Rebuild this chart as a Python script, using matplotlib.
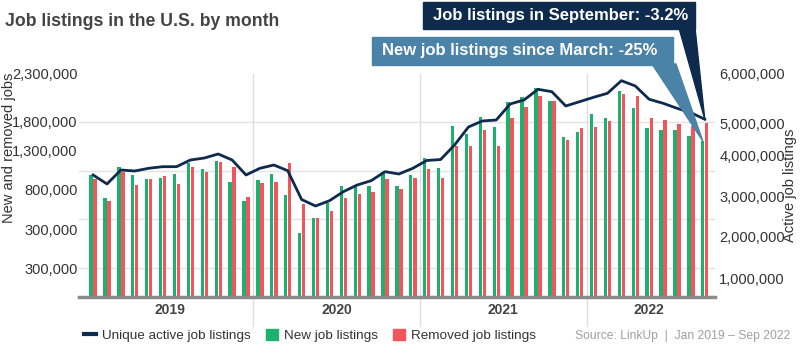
import matplotlib
matplotlib.use("Agg")
import matplotlib.pyplot as plt
from matplotlib.patches import Polygon, Rectangle
from matplotlib.lines import Line2D
from matplotlib.transforms import blended_transform_factory
import numpy as np

plt.rcParams['font.family'] = ['Liberation Sans', 'DejaVu Sans']

# monthly values, Jan 2019 - Sep 2022
new_jobs = [1258000, 1018000, 1344000, 1258000, 1217000, 1227000, 1269000, 1385000, 1320000, 1403000, 1189000, 990000,
            1207000, 1269000, 1052000, 657000, 812000, 973000, 1145000, 1155000, 1145000, 1292000, 1145000, 1258000,
            1434000, 1327000, 1764000, 1681000, 1857000, 1753000, 2011000, 2063000, 2156000, 2025000, 1647000, 1705000,
            1884000, 1849000, 2128000, 1946000, 1740000, 1722000, 1722000, 1661000, 1609000]
removed_jobs = [1214000, 990000, 1292000, 1155000, 1217000, 1248000, 1165000, 1344000, 1289000, 1396000, 1344000, 1028000,
                1173000, 1189000, 1385000, 959000, 812000, 887000, 1018000, 1062000, 1086000, 1217000, 1111000, 1224000,
                1317000, 1224000, 1557000, 1557000, 1722000, 1557000, 1846000, 1960000, 2073000, 2025000, 1619000, 1740000,
                1756000, 1818000, 2091000, 2073000, 1843000, 1826000, 1784000, 1764000, 1792000]
active_jobs = [3917000, 3731000, 4020000, 3999000, 4055000, 4088000, 4088000, 4226000, 4267000, 4350000, 4226000, 3917000,
               4055000, 4123000, 4005000, 3411000, 3277000, 3386000, 3572000, 3710000, 3799000, 3985000, 3937000, 4055000,
               4216000, 4236000, 4535000, 4907000, 5031000, 5051000, 5381000, 5464000, 5684000, 5635000, 5340000, 5429000,
               5519000, 5602000, 5862000, 5753000, 5478000, 5396000, 5293000, 5202000, 5066000]
years = ['2019', '2020', '2021', '2022']

# axis labels (as printed on the original chart)
left_labels = ['2,300,000', '1,800,000', '1,300,000', '800,000', '300,000', '300,000']
left_label_pos = [2300000, 1805000, 1506000, 1104000, 701000, 299000]
left_grid = [300000, 800000, 1300000, 1800000, 2300000]
right_labels = ['6,000,000', '5,000,000', '4,000,000', '3,000,000', '2,000,000', '1,000,000']
right_label_pos = [6000000, 4989000, 4309000, 3463000, 2638000, 1792000]

GREEN = '#1db16f'
RED = '#f2555c'
NAVY = '#0e2a4d'
STEEL = '#4a82a8'
TXT = '#333333'

fig = plt.figure(figsize=(8, 3.54), dpi=100)
ax = fig.add_axes([0.099, 0.161, 0.795, 0.63])
ax2 = ax.twinx()

x = np.arange(len(new_jobs))
w = 0.24
ax.bar(x - 0.145, new_jobs, width=w, color=GREEN, zorder=3)
ax.bar(x + 0.145, removed_jobs, width=w, color=RED, zorder=3)
ax2.plot(x, active_jobs, color=NAVY, lw=2, zorder=4)

ax.set_xlim(-1.0, 44.75)
ax.set_ylim(0, 2300000)
ax2.set_ylim(1400000, 6000000)

ax.set_yticks(left_label_pos)
ax.set_yticklabels(left_labels)
ax.set_yticks(left_grid, minor=True)
ax.tick_params(axis='y', which='minor', length=0)
ax.grid(axis='y', which='minor', color='#e2e2e2', lw=1)
ax.tick_params(axis='y', which='major', length=0, labelsize=10.5, labelcolor=TXT, pad=1)
ax2.set_yticks(right_label_pos)
ax2.set_yticklabels(right_labels)
ax2.tick_params(axis='y', length=0, labelsize=10.5, labelcolor=TXT, pad=3)
ax.set_xticks([])

for a in (ax, ax2):
    for s in ['top', 'left', 'right', 'bottom']:
        a.spines[s].set_visible(False)
ax.axhline(0, color='#8a8a8a', lw=2.5, zorder=5, clip_on=False)

ax.set_ylabel('New and removed jobs', fontsize=10.5, color=TXT)
ax2.set_ylabel('Active job listings', fontsize=10.5, color=TXT)
ax.yaxis.set_label_coords(-0.1, 0.668)
ax2.yaxis.set_label_coords(1.107, 0.5)

# year separators and labels
for b in [11.5, 23.5, 35.5]:
    ax.axvline(b, ymin=-0.13, ymax=1, color='#dddddd', lw=1, clip_on=False, zorder=1)
trans = blended_transform_factory(ax.transData, ax.transAxes)
year_mid = [5.5, 17.5, 29.5, 40]
for yr, xm in zip(years, year_mid):
    ax.text(xm, -0.06, yr, transform=trans, ha='center', va='center',
            fontsize=10, fontweight='bold', color='#444444')

# title
fig.text(0.006, 0.94, 'Job listings in the U.S. by month', fontsize=12.7, fontweight='bold',
         color='#444444', ha='left', va='center')

# legend
handles = [Line2D([0], [0], color=NAVY, lw=3),
           Rectangle((0, 0), 1, 1, color=GREEN),
           Rectangle((0, 0), 1, 1, color=RED)]
fig.legend(handles, ['Unique active job listings', 'New job listings', 'Removed job listings'],
           loc='center left', bbox_to_anchor=(0.09, 0.052), ncol=3, frameon=False,
           fontsize=9.7, handlelength=0.9, handleheight=0.9, handletextpad=0.45, columnspacing=1.1,
           labelcolor=TXT)
fig.text(0.988, 0.052, 'Source: LinkUp  |  Jan 2019 \u2013 Sep 2022', fontsize=8.7, color='#a0a0a0',
         ha='right', va='center')

# callouts pointing to last month's values
fig.canvas.draw()
inv = fig.transFigure.inverted()
tip_active = inv.transform(ax2.transData.transform((x[-1], active_jobs[-1])))
tip_new = inv.transform(ax.transData.transform((x[-1] - 0.145, new_jobs[-1])))

W, H = 800.0, 354.0
def fx(px):
    return px / W
def fy(py):
    return 1 - py / H

fig.add_artist(Rectangle((fx(372), fy(65)), fx(673) - fx(372), fy(37) - fy(65),
                         transform=fig.transFigure, color=STEEL, zorder=10))
fig.add_artist(Polygon([(fx(652), fy(64)), (fx(676), fy(64)), tuple(tip_new)],
                       transform=fig.transFigure, color=STEEL, zorder=10))
fig.text((fx(372) + fx(673)) / 2 - 0.004, (fy(37) + fy(65)) / 2, 'New job listings since March: -25%',
         color='white', fontsize=12, fontweight='bold', ha='center', va='center', zorder=12)

fig.add_artist(Rectangle((fx(423), fy(29)), fx(695) - fx(423), fy(2) - fy(29),
                         transform=fig.transFigure, color=NAVY, zorder=13))
fig.add_artist(Polygon([(fx(679), fy(28)), (fx(695), fy(28)), tuple(tip_active)],
                       transform=fig.transFigure, color=NAVY, zorder=13))
fig.text((fx(423) + fx(695)) / 2 + 0.002, (fy(2) + fy(29)) / 2, 'Job listings in September: -3.2%',
         color='white', fontsize=12, fontweight='bold', ha='center', va='center', zorder=14)

fig.savefig('out.png', dpi=100)
